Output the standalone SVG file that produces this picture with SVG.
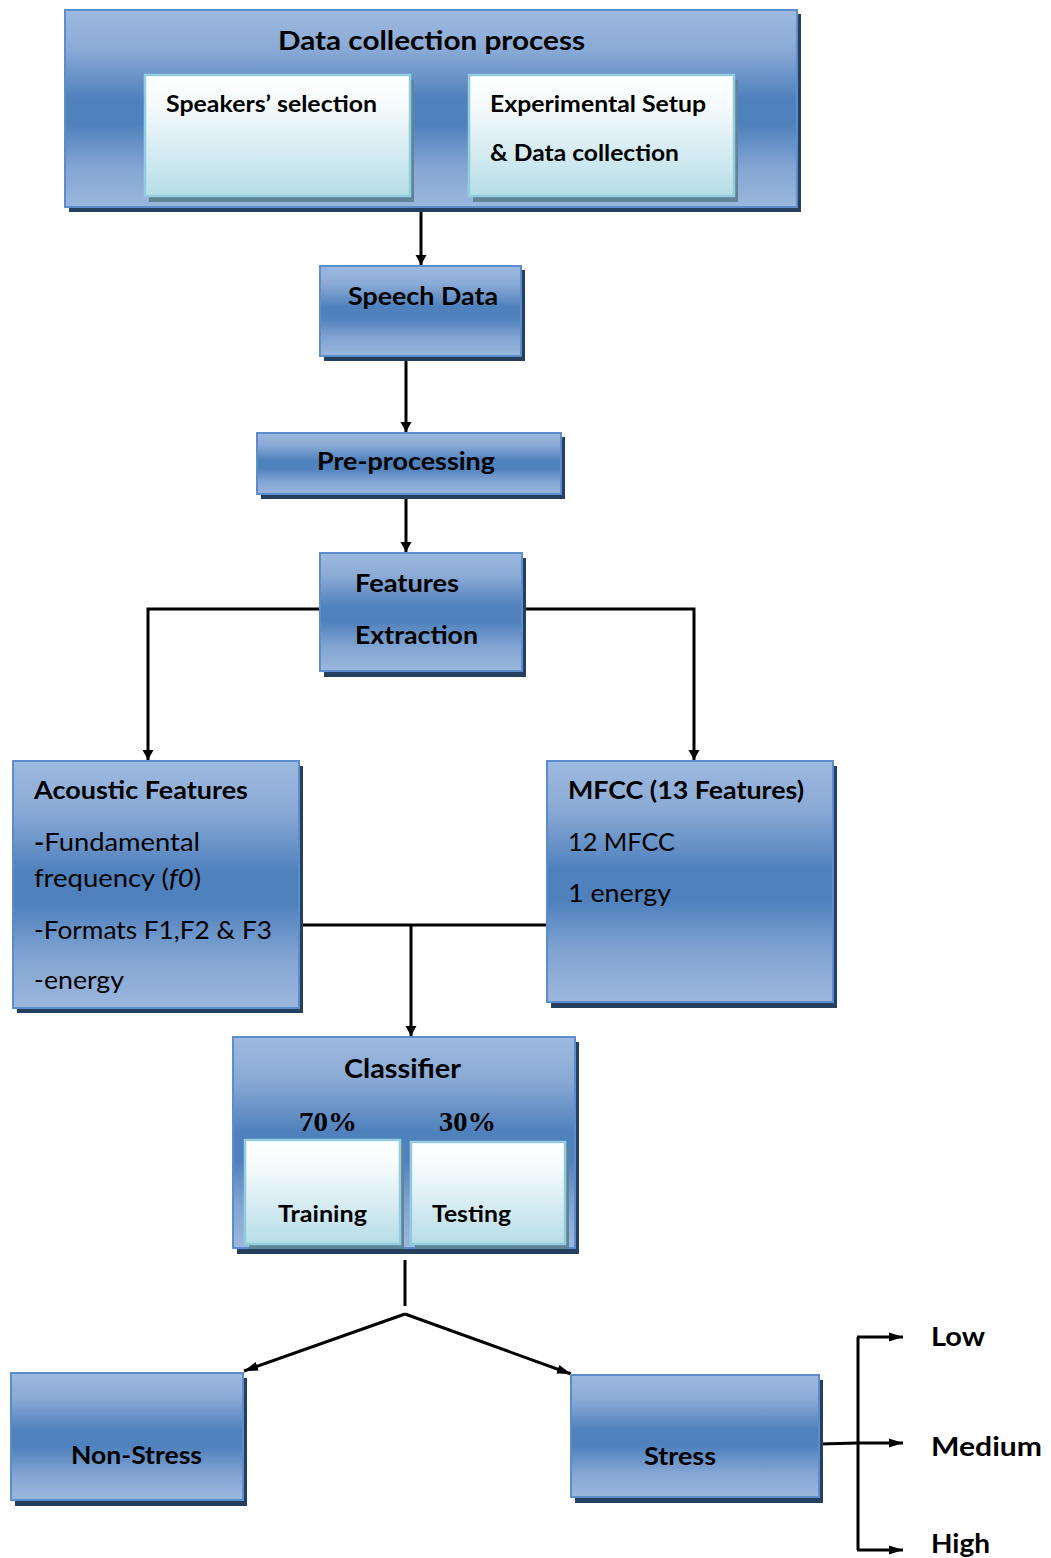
<svg xmlns="http://www.w3.org/2000/svg" width="1051" height="1558" viewBox="0 0 1051 1558">
  <defs>
    <linearGradient id="blueFill" x1="0" y1="0" x2="0" y2="1">
      <stop offset="0" stop-color="#9db9df"/>
      <stop offset="0.2" stop-color="#8aaad6"/>
      <stop offset="0.45" stop-color="#4f81bd"/>
      <stop offset="0.58" stop-color="#4f81bd"/>
      <stop offset="0.8" stop-color="#83a5d3"/>
      <stop offset="1" stop-color="#9bb7dd"/>
    </linearGradient>
    <linearGradient id="paleFill" x1="0" y1="0" x2="0" y2="1">
      <stop offset="0" stop-color="#ffffff"/>
      <stop offset="0.25" stop-color="#f5fafb"/>
      <stop offset="1" stop-color="#b6dde8"/>
    </linearGradient>
    <marker id="arrow" viewBox="0 0 10 12" refX="10" refY="6" markerWidth="10" markerHeight="12" markerUnits="userSpaceOnUse" orient="auto">
      <path d="M0,0.5 L10,6 L0,11.5 z" fill="#000"/>
    </marker>
    <marker id="arrowL" viewBox="0 0 14 10" refX="14" refY="5" markerWidth="14" markerHeight="10" markerUnits="userSpaceOnUse" orient="auto">
      <path d="M0,0.5 L14,5 L0,9.5 z" fill="#000"/>
    </marker>
  </defs>
  <style>
    .shadow { fill: #243f60; }
    .box { fill: url(#blueFill); stroke: #5d8dca; stroke-width: 2; }
    .pshadow { fill: #5f8497; }
    .pale { fill: url(#paleFill); stroke: #93cddd; stroke-width: 2.5; }
    .t { font-family: Lato, "Open Sans", "Liberation Sans", sans-serif; fill: #000; }
    .b { font-weight: bold; }
    .r { font-weight: normal; }
    .pct { font-family: "Liberation Serif", "Times New Roman", serif; font-weight: bold; font-size: 28px; fill: #000; }
    .line { fill: none; stroke: #000; stroke-width: 3; }
  </style>
  <rect width="1051" height="1558" fill="#ffffff"/>

  <!-- connectors -->
  <g id="connectors">
    <path class="line" d="M421,207 V265" marker-end="url(#arrow)"/>
    <path class="line" d="M406,356 V432" marker-end="url(#arrow)"/>
    <path class="line" d="M406,494 V552" marker-end="url(#arrow)"/>
    <path class="line" d="M320,609 H148 V760" marker-end="url(#arrow)"/>
    <path class="line" d="M522,609 H694 V760" marker-end="url(#arrow)"/>
    <path class="line" d="M299,925 H547"/>
    <path class="line" d="M411,925 V1036" marker-end="url(#arrow)"/>
    <path class="line" d="M405,1260 V1306"/>
    <path class="line" d="M405,1314 L244,1371" marker-end="url(#arrowL)"/>
    <path class="line" d="M405,1314 L571,1374" marker-end="url(#arrowL)"/>
    <path class="line" d="M819,1444 L858,1443"/>
    <path class="line" d="M858,1337 V1550"/>
    <path class="line" d="M857,1337 H903" marker-end="url(#arrowL)"/>
    <path class="line" d="M858,1443 H903" marker-end="url(#arrowL)"/>
    <path class="line" d="M857,1550 H903" marker-end="url(#arrowL)"/>
  </g>

  <!-- data collection process -->
  <g id="data-collection">
    <rect class="shadow" x="69" y="14" width="732" height="198"/>
    <rect class="box" x="65" y="10" width="732" height="197"/>
    <text class="t b" x="278" y="50" font-size="27" textLength="307" lengthAdjust="spacingAndGlyphs">Data collection process</text>
    <g id="speakers-selection">
      <rect class="pshadow" x="149" y="80" width="265" height="122"/>
      <rect class="pale" x="145" y="75" width="265" height="121"/>
      <text class="t b" x="166" y="112" font-size="22" textLength="211" lengthAdjust="spacingAndGlyphs">Speakers’ selection</text>
    </g>
    <g id="experimental-setup">
      <rect class="pshadow" x="473" y="80" width="265" height="122"/>
      <rect class="pale" x="469" y="75" width="265" height="121"/>
      <text class="t b" x="490" y="112" font-size="22" textLength="216" lengthAdjust="spacingAndGlyphs">Experimental Setup</text>
      <text class="t b" x="490" y="161" font-size="22" textLength="189" lengthAdjust="spacingAndGlyphs">&amp; Data collection</text>
    </g>
  </g>

  <g id="speech-data">
    <rect class="shadow" x="324" y="270" width="201" height="91"/>
    <rect class="box" x="320" y="266" width="201" height="90"/>
    <text class="t b" x="348" y="305" font-size="24" textLength="150" lengthAdjust="spacingAndGlyphs">Speech Data</text>
  </g>

  <g id="pre-processing">
    <rect class="shadow" x="261" y="437" width="304" height="62"/>
    <rect class="box" x="257" y="433" width="304" height="61"/>
    <text class="t b" x="317" y="470" font-size="24" textLength="178" lengthAdjust="spacingAndGlyphs">Pre-processing</text>
  </g>

  <g id="features-extraction">
    <rect class="shadow" x="324" y="558" width="202" height="119"/>
    <rect class="box" x="320" y="553" width="202" height="118"/>
    <text class="t b" x="355" y="592" font-size="24" textLength="104" lengthAdjust="spacingAndGlyphs">Features</text>
    <text class="t b" x="355" y="644" font-size="24" textLength="123" lengthAdjust="spacingAndGlyphs">Extraction</text>
  </g>

  <g id="acoustic-features">
    <rect class="shadow" x="17" y="766" width="286" height="247"/>
    <rect class="box" x="13" y="761" width="286" height="247"/>
    <text class="t b" x="34" y="799" font-size="24" textLength="214" lengthAdjust="spacingAndGlyphs">Acoustic Features</text>
    <text class="t r" x="34" y="851" font-size="25" textLength="166" lengthAdjust="spacingAndGlyphs"><tspan font-weight="bold">-</tspan>Fundamental</text>
    <text class="t r" x="34" y="887" font-size="25" textLength="167" lengthAdjust="spacingAndGlyphs">frequency (<tspan font-style="italic">f0</tspan>)</text>
    <text class="t r" x="34" y="939" font-size="25" textLength="238" lengthAdjust="spacingAndGlyphs">-Formats F1,F2 &amp; F3</text>
    <text class="t r" x="34" y="989" font-size="25" textLength="90" lengthAdjust="spacingAndGlyphs">-energy</text>
  </g>

  <g id="mfcc">
    <rect class="shadow" x="551" y="766" width="286" height="242"/>
    <rect class="box" x="547" y="761" width="286" height="241"/>
    <text class="t b" x="568" y="799" font-size="24" textLength="236" lengthAdjust="spacingAndGlyphs">MFCC (13 Features)</text>
    <text class="t r" x="568" y="851" font-size="25" textLength="107" lengthAdjust="spacingAndGlyphs">12 MFCC</text>
    <text class="t r" x="568" y="902" font-size="25" textLength="103" lengthAdjust="spacingAndGlyphs">1 energy</text>
  </g>

  <g id="classifier">
    <rect class="shadow" x="237" y="1042" width="342" height="212"/>
    <rect class="box" x="233" y="1037" width="342" height="211"/>
    <text class="t b" x="344" y="1078" font-size="27" textLength="117" lengthAdjust="spacingAndGlyphs">Classifier</text>
    <text class="pct" x="299" y="1131" textLength="58" lengthAdjust="spacingAndGlyphs">70%</text>
    <text class="pct" x="439" y="1131" textLength="57" lengthAdjust="spacingAndGlyphs">30%</text>
    <g id="training">
      <rect class="pshadow" x="249" y="1145" width="155" height="104"/>
      <rect class="pale" x="245" y="1140" width="155" height="104"/>
      <text class="t b" x="278" y="1222" font-size="22" textLength="89" lengthAdjust="spacingAndGlyphs">Training</text>
    </g>
    <g id="testing">
      <rect class="pshadow" x="415" y="1147" width="154" height="102"/>
      <rect class="pale" x="411" y="1142" width="154" height="102"/>
      <text class="t b" x="432" y="1222" font-size="22" textLength="79" lengthAdjust="spacingAndGlyphs">Testing</text>
    </g>
  </g>

  <g id="non-stress">
    <rect class="shadow" x="15" y="1378" width="232" height="128"/>
    <rect class="box" x="11" y="1373" width="232" height="127"/>
    <text class="t b" x="71" y="1464" font-size="24" textLength="131" lengthAdjust="spacingAndGlyphs">Non-Stress</text>
  </g>

  <g id="stress">
    <rect class="shadow" x="575" y="1380" width="248" height="123"/>
    <rect class="box" x="571" y="1375" width="248" height="122"/>
    <text class="t b" x="644" y="1465" font-size="24" textLength="72" lengthAdjust="spacingAndGlyphs">Stress</text>
  </g>

  <g id="level-low">
    <text class="t b" x="931" y="1346" font-size="27" textLength="54" lengthAdjust="spacingAndGlyphs">Low</text>
  </g>
  <g id="level-medium">
    <text class="t b" x="931" y="1456" font-size="27" textLength="111" lengthAdjust="spacingAndGlyphs">Medium</text>
  </g>
  <g id="level-high">
    <text class="t b" x="931" y="1553" font-size="27" textLength="59" lengthAdjust="spacingAndGlyphs">High</text>
  </g>
</svg>
